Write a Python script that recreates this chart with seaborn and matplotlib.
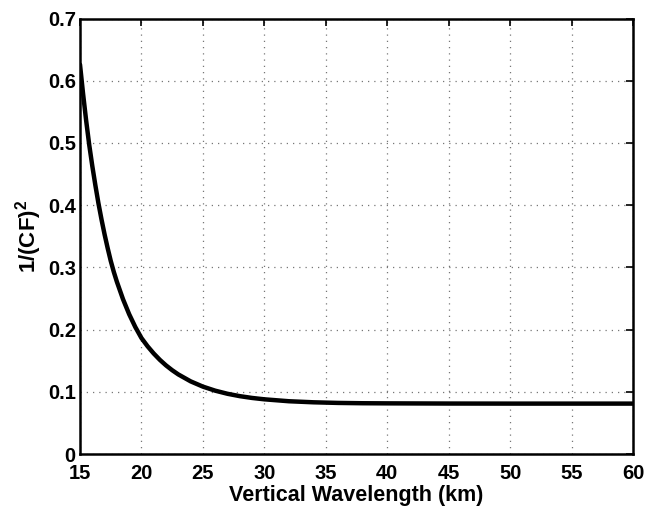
import numpy as np
import pandas as pd
import matplotlib
matplotlib.use("Agg")
import matplotlib.pyplot as plt
import seaborn as sns

# Data
wavelength_km = [15.0, 15.25, 15.5, 15.75, 16.0, 16.25, 16.5, 16.75, 17.0, 17.25, 17.5, 17.75,
                 18.0, 18.5, 19.0, 19.5, 20.0, 20.5, 21.0, 21.5, 22.0, 22.5, 23.0, 24.0,
                 25.0, 26.0, 27.0, 28.0, 29.0, 30.0, 32.0, 34.0, 36.0, 38.0, 40.0, 45.0,
                 50.0, 55.0, 60.0]
inv_cf_sq = [0.626, 0.579, 0.536, 0.497, 0.463, 0.432, 0.403, 0.377, 0.353, 0.331, 0.3105, 0.2927,
             0.2769, 0.2488, 0.2247, 0.2041, 0.1864, 0.1731, 0.1615, 0.1513, 0.1424, 0.1347, 0.1279, 0.1168,
             0.1083, 0.1018, 0.0968, 0.0930, 0.0901, 0.0879, 0.0848, 0.0831, 0.0821, 0.0816, 0.0814, 0.0811,
             0.0810, 0.0810, 0.0810]
x_ticks = [15, 20, 25, 30, 35, 40, 45, 50, 55, 60]
y_ticks = [0, 0.1, 0.2, 0.3, 0.4, 0.5, 0.6, 0.7]
y_tick_labels = ["0", "0.1", "0.2", "0.3", "0.4", "0.5", "0.6", "0.7"]

df = pd.DataFrame({"wl": wavelength_km, "v": inv_cf_sq})

sns.set_style("white")
plt.rcParams["font.family"] = ["Liberation Sans", "DejaVu Sans"]
plt.rcParams["font.weight"] = "bold"
plt.rcParams["text.color"] = "black"
plt.rcParams["axes.labelcolor"] = "black"
plt.rcParams["xtick.color"] = "black"
plt.rcParams["ytick.color"] = "black"
plt.rcParams["mathtext.fontset"] = "custom"
plt.rcParams["mathtext.bf"] = "Liberation Sans:bold"
plt.rcParams["mathtext.rm"] = "Liberation Sans:bold"

fig = plt.figure(figsize=(6.46, 5.07), dpi=100)
ax = fig.add_axes([80/646, 1 - 454/507, (633 - 80)/646, (454 - 18.5)/507])

sns.lineplot(data=df, x="wl", y="v", ax=ax, color="black", linewidth=3.2, sort=False)

ax.set_xlim(15, 60)
ax.set_ylim(0, 0.7)
ax.set_xticks(x_ticks)
ax.set_xticklabels([str(t) for t in x_ticks])
ax.set_yticks(y_ticks)
ax.set_yticklabels(y_tick_labels)

ax.grid(True, linestyle=(0, (1, 4)), color="#777777", linewidth=0.9)
for s in ax.spines.values():
    s.set_visible(True)
    s.set_color("black")
    s.set_linewidth(1.8)
ax.tick_params(axis="both", which="both", direction="in", length=5, width=1.2,
               top=True, right=True, labelsize=14.5, colors="black", labelcolor="black")
ax.tick_params(axis="x", pad=7)
ax.tick_params(axis="y", pad=3)
for lab in ax.get_xticklabels() + ax.get_yticklabels():
    lab.set_fontweight("bold")
    lab.set_color("black")

ax.set_xlabel("Vertical Wavelength (km)", fontsize=15.5, fontweight="bold", labelpad=2, color="black")
ax.set_ylabel(r"1/(CF)$^{\mathrm{2}}$", fontsize=16, fontweight="bold", labelpad=3, color="black")

fig.savefig("out.png", dpi=100)
